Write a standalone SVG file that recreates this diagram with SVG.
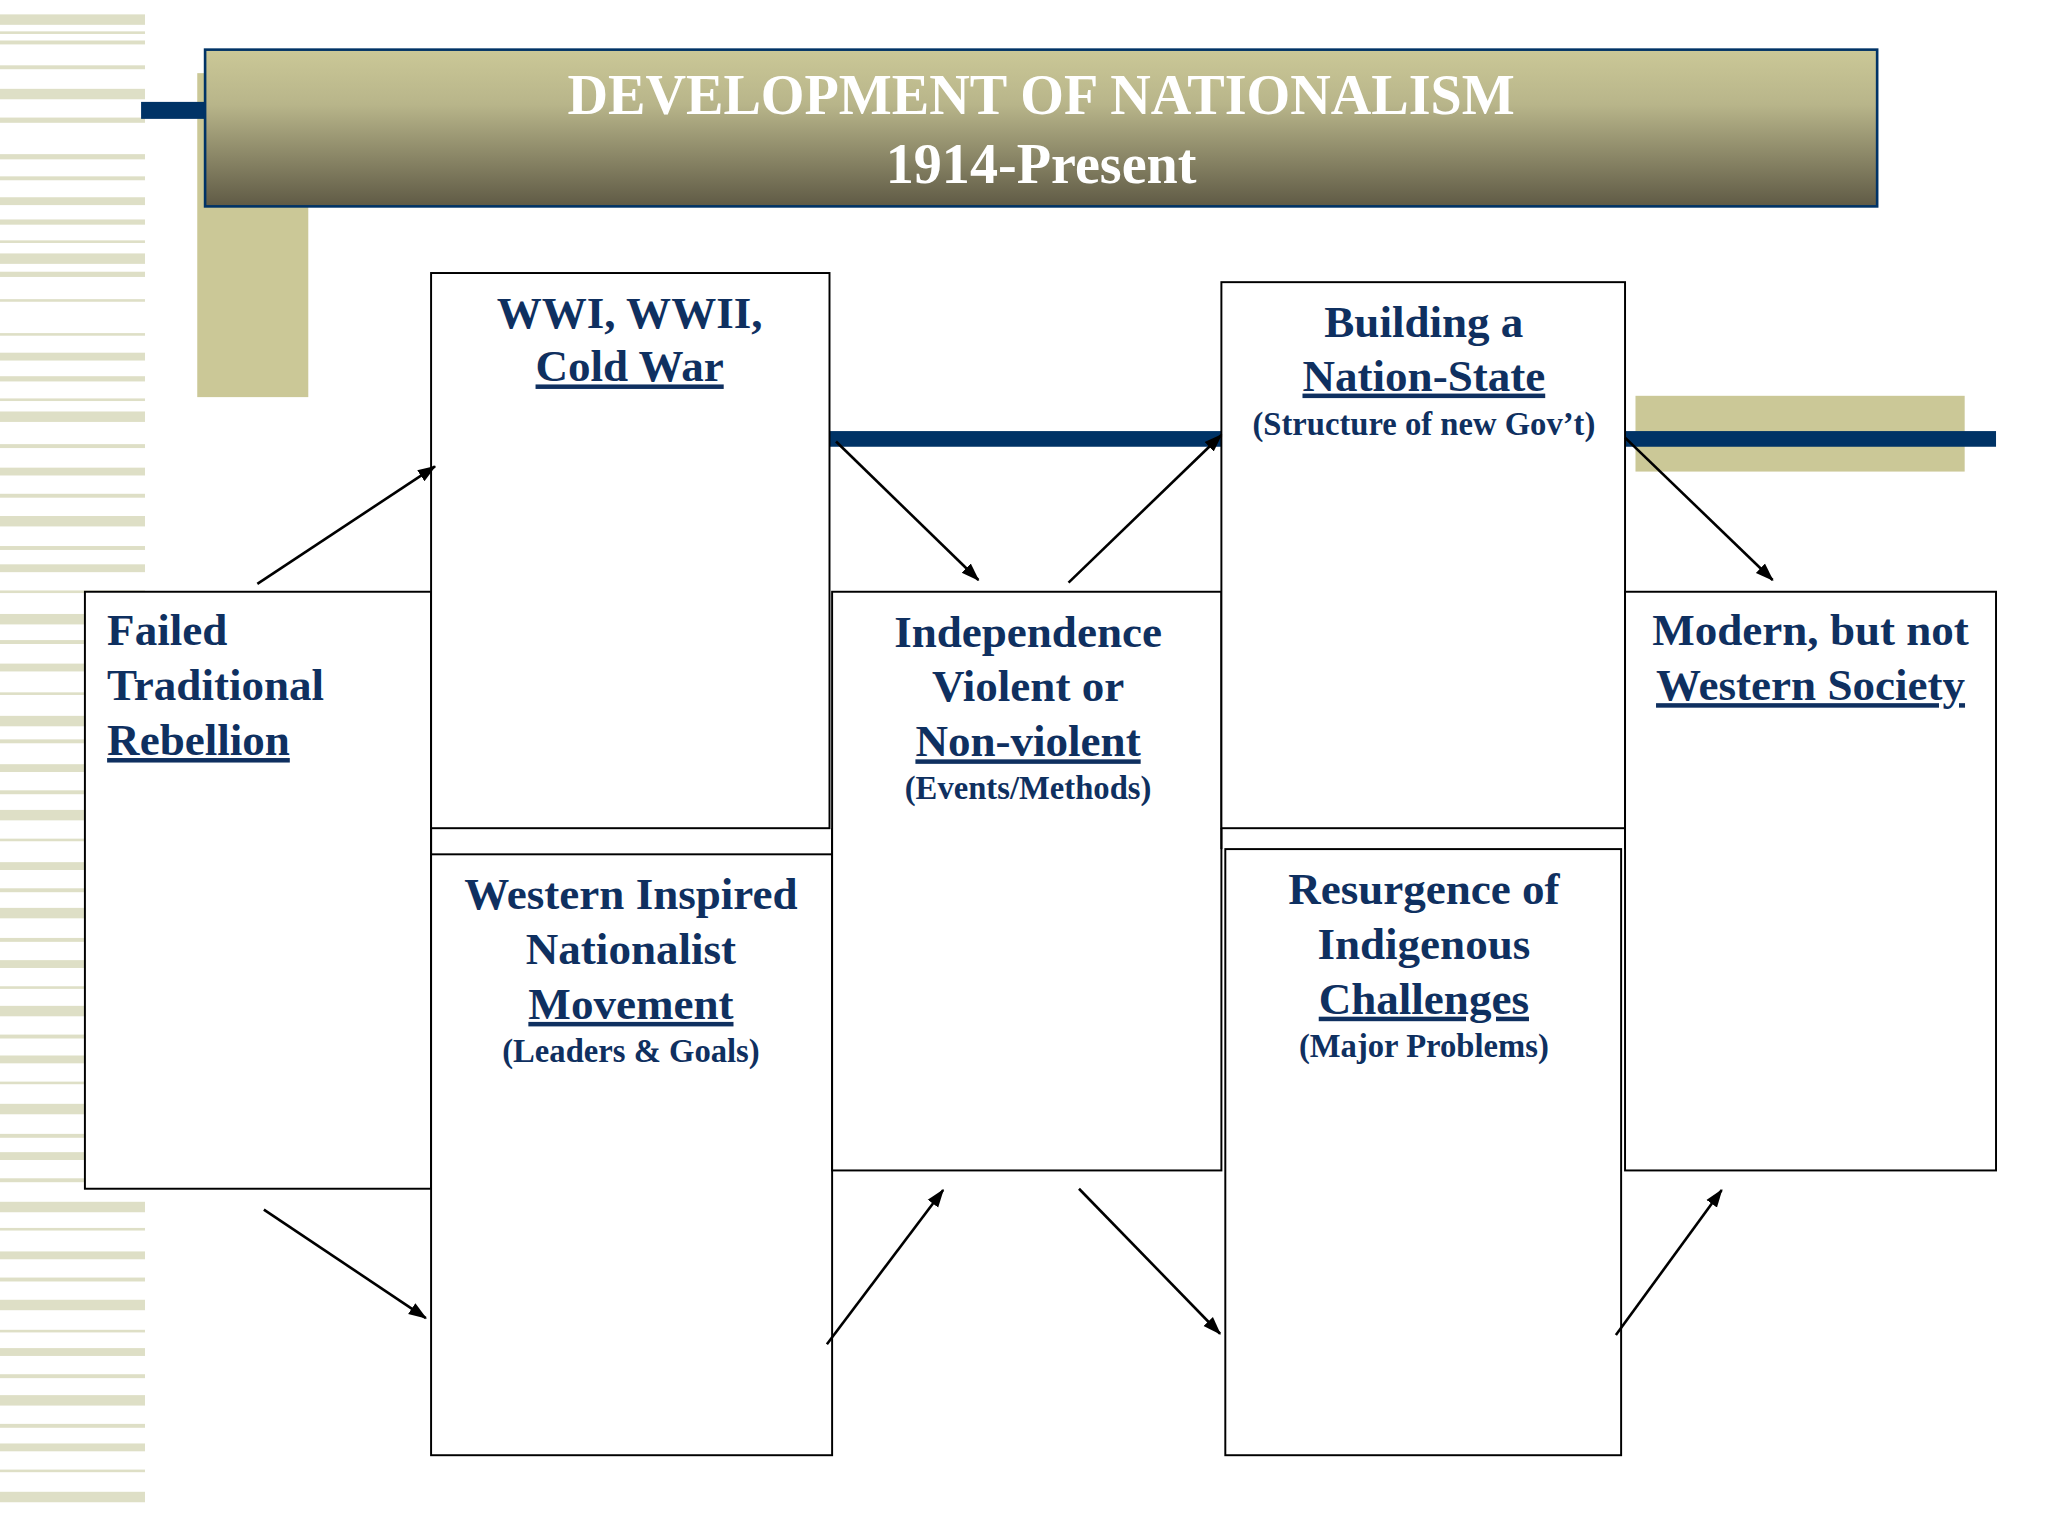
<svg xmlns="http://www.w3.org/2000/svg" width="2048" height="1536" viewBox="0 0 2048 1536">
<style>
.b{fill:#fff;stroke:#000;stroke-width:1.5}
.t{font-family:"Liberation Serif",serif;font-weight:bold;fill:#0f3060;font-size:34.5px;text-anchor:middle}
.s{font-size:25px}
.u{text-decoration:underline}
.a{stroke:#000;stroke-width:2;marker-end:url(#ah)}
.st{fill:#dedfc6}
</style>
<defs>
<linearGradient id="g" x1="0" y1="0" x2="0" y2="1"><stop offset="0" stop-color="#cbc897"/><stop offset="0.35" stop-color="#b8b58a"/><stop offset="1" stop-color="#5f5a45"/></linearGradient>
<marker id="ah" markerWidth="14" markerHeight="12" refX="13" refY="6" orient="auto" markerUnits="userSpaceOnUse"><path d="M0,1 L14,6 L0,11 z" fill="#000"/></marker>
</defs>
<rect width="2048" height="1536" fill="#fff"/>
<g transform="scale(1.3063)">
<g id="stripes">
<rect class="st" x="0" y="11" width="111" height="8"/><rect class="st" x="0" y="24" width="111" height="2"/><rect class="st" x="0" y="31" width="111" height="3"/>
<rect class="st" x="0" y="50" width="111" height="3"/><rect class="st" x="0" y="68" width="111" height="8"/><rect class="st" x="0" y="90" width="111" height="4"/>
<rect class="st" x="0" y="118" width="111" height="4"/><rect class="st" x="0" y="135" width="111" height="3"/><rect class="st" x="0" y="151" width="111" height="6"/>
<rect class="st" x="0" y="168" width="111" height="4"/><rect class="st" x="0" y="184" width="111" height="2"/><rect class="st" x="0" y="194" width="111" height="8"/>
<rect class="st" x="0" y="208" width="111" height="4"/><rect class="st" x="0" y="229" width="111" height="2"/><rect class="st" x="0" y="255" width="111" height="2"/>
<rect class="st" x="0" y="270" width="111" height="6"/><rect class="st" x="0" y="288" width="111" height="4"/><rect class="st" x="0" y="305" width="111" height="2"/>
<rect class="st" x="0" y="315" width="111" height="8"/><rect class="st" x="0" y="340" width="111" height="3"/><rect class="st" x="0" y="358" width="111" height="6"/>
<rect class="st" x="0" y="378" width="111" height="3"/><rect class="st" x="0" y="395" width="111" height="8"/><rect class="st" x="0" y="418" width="111" height="3"/>
<rect class="st" x="0" y="432" width="111" height="6"/><rect class="st" x="0" y="452" width="111" height="2"/><rect class="st" x="0" y="470" width="111" height="8"/>
<rect class="st" x="0" y="490" width="111" height="3"/><rect class="st" x="0" y="508" width="111" height="6"/><rect class="st" x="0" y="530" width="111" height="2"/>
<rect class="st" x="0" y="548" width="111" height="8"/><rect class="st" x="0" y="566" width="111" height="3"/><rect class="st" x="0" y="585" width="111" height="6"/>
<rect class="st" x="0" y="605" width="111" height="3"/><rect class="st" x="0" y="620" width="111" height="8"/><rect class="st" x="0" y="642" width="111" height="2"/>
<rect class="st" x="0" y="660" width="111" height="6"/><rect class="st" x="0" y="680" width="111" height="3"/><rect class="st" x="0" y="695" width="111" height="8"/>
<rect class="st" x="0" y="718" width="111" height="3"/><rect class="st" x="0" y="735" width="111" height="6"/><rect class="st" x="0" y="755" width="111" height="2"/>
<rect class="st" x="0" y="770" width="111" height="8"/><rect class="st" x="0" y="792" width="111" height="3"/><rect class="st" x="0" y="808" width="111" height="6"/>
<rect class="st" x="0" y="828" width="111" height="2"/><rect class="st" x="0" y="845" width="111" height="8"/><rect class="st" x="0" y="868" width="111" height="3"/>
<rect class="st" x="0" y="882" width="111" height="6"/><rect class="st" x="0" y="902" width="111" height="3"/><rect class="st" x="0" y="920" width="111" height="8"/>
<rect class="st" x="0" y="940" width="111" height="2"/><rect class="st" x="0" y="958" width="111" height="6"/><rect class="st" x="0" y="978" width="111" height="3"/>
<rect class="st" x="0" y="995" width="111" height="8"/><rect class="st" x="0" y="1018" width="111" height="2"/><rect class="st" x="0" y="1032" width="111" height="6"/>
<rect class="st" x="0" y="1052" width="111" height="3"/><rect class="st" x="0" y="1068" width="111" height="8"/><rect class="st" x="0" y="1090" width="111" height="3"/>
<rect class="st" x="0" y="1105" width="111" height="6"/><rect class="st" x="0" y="1125" width="111" height="2"/><rect class="st" x="0" y="1142" width="111" height="8"/>
</g>
<g id="decor">
<rect x="151" y="56" width="85" height="248" fill="#cbc897"/>
<rect x="108" y="78" width="50" height="13" fill="#003366"/>
<rect x="1252" y="303" width="252" height="58" fill="#cbc897"/>
<rect x="635" y="330" width="300" height="12" fill="#003366"/>
<rect x="1244" y="330" width="284" height="12" fill="#003366"/>
</g>
<g id="title">
<rect x="157" y="38" width="1280" height="120" fill="url(#g)" stroke="#003366" stroke-width="2"/>
<text class="t" x="797" y="87" style="fill:#fff;font-size:43px">DEVELOPMENT OF NATIONALISM</text>
<text class="t" x="797" y="140" style="fill:#fff;font-size:43px">1914-Present</text>
</g>
<g id="failed"><rect class="b" x="65" y="453" width="265" height="457"/>
<text class="t" x="82" y="494" style="text-anchor:start">Failed</text>
<text class="t" x="82" y="536" style="text-anchor:start">Traditional</text>
<text class="t u" x="82" y="578" style="text-anchor:start">Rebellion</text></g>
<g id="wwi"><rect class="b" x="330" y="209" width="305" height="425"/>
<text class="t" x="482" y="251">WWI, WWII,</text><text class="t u" x="482" y="292">Cold War</text></g>
<g id="western"><rect class="b" x="330" y="654" width="307" height="460"/>
<line x1="330" y1="634" x2="330" y2="654" stroke="#000" stroke-width="1.5"/><line x1="637" y1="634" x2="637" y2="654" stroke="#000" stroke-width="1.5"/>
<text class="t" x="483" y="696">Western Inspired</text><text class="t" x="483" y="738">Nationalist</text>
<text class="t u" x="483" y="780">Movement</text><text class="t s" x="483" y="813">(Leaders &amp; Goals)</text></g>
<g id="independence"><rect class="b" x="637" y="453" width="298" height="443"/>
<text class="t" x="787" y="495">Independence</text><text class="t" x="787" y="537">Violent or</text>
<text class="t u" x="787" y="579">Non-violent</text><text class="t s" x="787" y="612">(Events/Methods)</text></g>
<g id="building"><rect class="b" x="935" y="216" width="309" height="418"/>
<text class="t" x="1090" y="258">Building a</text><text class="t u" x="1090" y="299">Nation-State</text>
<text class="t s" x="1090" y="333">(Structure of new Gov’t)</text></g>
<g id="resurgence"><rect class="b" x="938" y="650" width="303" height="464"/>
<line x1="935" y1="634" x2="935" y2="650" stroke="#000" stroke-width="1.5"/><line x1="1244" y1="634" x2="1244" y2="650" stroke="#000" stroke-width="1.5"/>
<text class="t" x="1090" y="692">Resurgence of</text><text class="t" x="1090" y="734">Indigenous</text>
<text class="t u" x="1090" y="776">Challenges</text><text class="t s" x="1090" y="809">(Major Problems)</text></g>
<g id="modern"><rect class="b" x="1244" y="453" width="284" height="443"/>
<text class="t" x="1386" y="494">Modern, but not</text><text class="t u" x="1386" y="536">Western Society</text></g>
<g id="connectors">
<line class="a" x1="197" y1="447" x2="333" y2="357"/>
<line class="a" x1="640" y1="338" x2="749" y2="444"/>
<line class="a" x1="818" y1="446" x2="935" y2="333"/>
<line class="a" x1="1244" y1="335" x2="1357" y2="444"/>
<line class="a" x1="202" y1="926" x2="326" y2="1009"/>
<line class="a" x1="633" y1="1029" x2="722" y2="911"/>
<line class="a" x1="826" y1="910" x2="934" y2="1021"/>
<line class="a" x1="1237" y1="1022" x2="1318" y2="911"/>
</g>
</g>
</svg>
